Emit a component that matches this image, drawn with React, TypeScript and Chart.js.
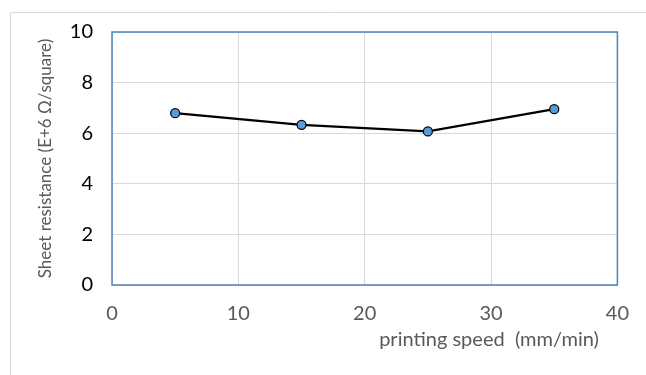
import React, { useEffect, useRef } from "react";
import { Chart, registerables } from "chart.js";

Chart.register(...registerables);

const speeds = [5, 15, 25, 35];
const resistance = [6.79, 6.33, 6.07, 6.95];
const xTicks = [0, 10, 20, 30, 40];
const yTicks = [0, 2, 4, 6, 8, 10];
const xTitle = "printing speed  (mm/min)";
const yTitle = "Sheet resistance (E+6 Ω/square)";

const FONT = "Lato, 'Open Sans', sans-serif";

export default function App() {
  const ref = useRef<HTMLCanvasElement | null>(null);

  useEffect(() => {
    const canvas = ref.current;
    if (!canvas) return;

    const framePlugin = {
      id: "frame",
      beforeDraw(chart: any) {
        const ctx = chart.ctx;
        ctx.save();
        ctx.fillStyle = "#ffffff";
        ctx.fillRect(0, 0, chart.width, chart.height);
        ctx.strokeStyle = "#d9d9d9";
        ctx.lineWidth = 1;
        ctx.beginPath();
        ctx.moveTo(10.5, chart.height);
        ctx.lineTo(10.5, 12.5);
        ctx.lineTo(chart.width, 12.5);
        ctx.stroke();
        ctx.restore();
      },
      beforeDatasetsDraw(chart: any) {
        const { ctx, chartArea } = chart;
        ctx.save();
        ctx.strokeStyle = "#4f81bd";
        ctx.lineWidth = 1.5;
        ctx.strokeRect(
          chartArea.left,
          chartArea.top,
          chartArea.right - chartArea.left,
          chartArea.bottom - chartArea.top
        );
        ctx.restore();
      },
      afterDraw(chart: any) {
        const ctx = chart.ctx;
        const area = chart.chartArea;
        ctx.save();
        ctx.fillStyle = "#595959";
        ctx.font = `20px ${FONT}`;
        ctx.textAlign = "center";
        ctx.textBaseline = "middle";
        ctx.fillText(xTitle, area.left + 377, area.bottom + 55);
        ctx.restore();
      },
    };

    const chart = new Chart(canvas, {
      type: "line",
      data: {
        datasets: [
          {
            data: speeds.map((x, i) => ({ x, y: resistance[i] })),
            borderColor: "#000000",
            borderWidth: 2.25,
            pointBackgroundColor: "#5b9bd5",
            pointBorderColor: "#000000",
            pointBorderWidth: 1.25,
            pointRadius: 4.5,
            tension: 0,
          },
        ],
      },
      options: {
        animation: false,
        responsive: false,
        layout: { padding: { top: 32, right: 28, left: 0, bottom: 0 } },
        plugins: {
          legend: { display: false },
          tooltip: { enabled: false },
        },
        scales: {
          x: {
            type: "linear",
            min: 0,
            max: 40,
            afterBuildTicks(scale: any) {
              scale.ticks = xTicks.map((v) => ({ value: v }));
            },
            afterFit(scale: any) {
              scale.height = 90;
            },
            grid: { color: "#d9d9d9", drawTicks: false, lineWidth: 1 },
            border: { display: false },
            ticks: {
              color: "#595959",
              font: { family: FONT, size: 20 },
              padding: 17,
              maxRotation: 0,
            },
          },
          y: {
            type: "linear",
            min: 0,
            max: 10,
            afterBuildTicks(scale: any) {
              scale.ticks = yTicks.map((v) => ({ value: v }));
            },
            afterFit(scale: any) {
              scale.width = 112;
            },
            grid: { color: "#d9d9d9", drawTicks: false, lineWidth: 1 },
            border: { display: false },
            ticks: {
              color: "#000000",
              font: { family: FONT, size: 20 },
              padding: 19,
            },
            title: {
              display: true,
              text: yTitle,
              color: "#595959",
              font: { family: FONT, size: 17 },
              padding: { top: 35, bottom: 0 },
            },
          },
        },
      },
      plugins: [framePlugin],
    } as any);

    return () => chart.destroy();
  }, []);

  return (
    <div style={{ position: "fixed", left: 0, top: 0, width: 646, height: 375 }}>
      <canvas ref={ref} width={646} height={375} style={{ width: 646, height: 375 }} />
    </div>
  );
}
